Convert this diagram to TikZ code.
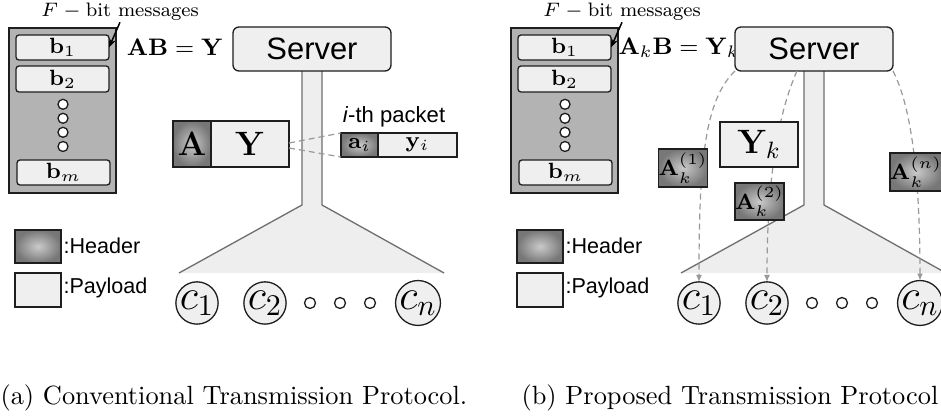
\RequirePackage{fix-cm}
\documentclass[tikz,border=0pt]{standalone}
\usepackage[no-math]{fontspec}
\setsansfont{Liberation Sans}
\usetikzlibrary{arrows.meta,calc}
\newlength\pu
\setlength\pu{0.385pt}
\newcommand\setfs[1]{\fontsize{#1}{#1}\selectfont}
\definecolor{payf}{HTML}{EFEFEF}
\definecolor{contf}{HTML}{B3B3B3}
\definecolor{hdin}{HTML}{CACACA}
\definecolor{hdout}{HTML}{777777}
\definecolor{trk}{HTML}{6E6E6E}
\definecolor{trf}{HTML}{EEEEEE}
\definecolor{dsh}{HTML}{999999}
\definecolor{edge}{HTML}{1E1E1E}
\tikzset{
  base/.style={inner sep=0pt, outer sep=0pt, line width=1.3\pu, draw=edge},
  cont/.style={base, fill=contf, minimum width=107\pu, minimum height=165\pu},
  msgb/.style={base, fill=payf, rounded corners=3\pu, minimum width=93\pu, minimum height=25\pu, font=\setfs{8.5}},
  dotc/.style={circle, base, fill=white, minimum size=10\pu},
  pay/.style={base, fill=payf},
  hdr/.style={base, inner color=hdin, outer color=hdout},
  srv/.style={base, fill=payf, rounded corners=6\pu, minimum width=158\pu, minimum height=44\pu, font=\sffamily\setfs{11.9}},
  cli/.style={circle, base, fill=payf, minimum size=41\pu, font=\setfs{16.5}},
  dsl/.style={draw=dsh, line width=1.2\pu, dash pattern=on 6\pu off 4\pu},
  trunkline/.style={draw=trk, line width=1.3\pu},
  lbl/.style={inner sep=1\pu},
  legtxt/.style={anchor=west, inner sep=0pt, font=\sffamily\setfs{8.3}},
  captxt/.style={anchor=base west, inner sep=0pt, font=\setfs{10.15}},
  dtip/.style={-{Latex[length=2.7pt,width=2.3pt]}},
  ptr/.style={-{Stealth[length=3.5pt,width=2.7pt]}, line width=1.5\pu}
}
\begin{document}
\begin{tikzpicture}[x=\pu, y=-\pu]
\useasboundingbox (0,0) rectangle (941,417);
\fill[white] (0,0) rectangle (941,417);
\clip (0,0) rectangle (941,417);

% ---------- trunks ----------
\fill[trf] (302,71) -- (302,205) -- (179,273) -- (444,273) -- (322,205) -- (322,71) -- cycle;
\draw[trunkline] (302,71) -- (302,205) -- (179,273);
\draw[trunkline] (322,71) -- (322,205) -- (444,273);
\fill[trf] (804,71) -- (804,205) -- (681,273) -- (946,273) -- (824,205) -- (824,71) -- cycle;
\draw[trunkline] (804,71) -- (804,205) -- (681,273);
\draw[trunkline] (824,71) -- (824,205) -- (946,273);

% ---------- left panel ----------
\node[cont] (contL) at (62.5,110.5) {};
\node[msgb] (b1L) at (62.5,47.5) {$\mathbf{b}_1$};
\node[msgb, minimum height=26\pu] (b2L) at (62.5,79) {$\mathbf{b}_2$};
\node[dotc] (d1L) at (63,104.3) {};
\node[dotc] (d2L) at (63,118.3) {};
\node[dotc] (d3L) at (63,132.3) {};
\node[dotc] (d4L) at (63,146.5) {};
\node[msgb] (bmL) at (63.5,172.5) {$\mathbf{b}_m$};
\node[lbl, font=\setfs{7.5}] (fL) at (120,12) {$F-{}$bit messages};
\draw[ptr] (fL.south) -- (b1L.east);
\node[font=\setfs{9.2}] (eqL) at (175,47) {$\mathbf{AB}=\mathbf{Y}$};
\node[srv] (sL) at (312,49) {Server};

\node[hdr, minimum width=38\pu, minimum height=46\pu, font=\setfs{13}] (pAL) at (192,144) {$\mathbf{A}$};
\node[pay, minimum width=78\pu, minimum height=46\pu, font=\setfs{13}] (pYL) at (250,144) {$\mathbf{Y}$};
\node[font=\sffamily\setfs{8.5}] (ipk) at (394,117) {\textit{i}-th packet};
\node[hdr, minimum width=37\pu, minimum height=24\pu, font=\setfs{8.5}] (ai) at (359.5,145) {$\mathbf{a}_i$};
\node[pay, minimum width=79\pu, minimum height=24\pu, font=\setfs{8.5}] (yi) at (417.5,145) {$\mathbf{y}_i$};
\draw[dsl] ([yshift=1\pu]pYL.east) -- (ai.north west);
\draw[dsl] ([yshift=-4\pu]pYL.east) -- (ai.south west);

\node[hdr, minimum width=46\pu, minimum height=33\pu] (lhL) at (38,246.5) {};
\node[legtxt] (lhtL) at (63,246) {:Header};
\node[pay, minimum width=46\pu, minimum height=34\pu] (lpL) at (38,290) {};
\node[legtxt] (lptL) at (63,288) {:Payload};

\node[cli] (c1L) at (197,303) {$c_1$};
\node[cli] (c2L) at (265,303) {$c_2$};
\node[dotc, minimum size=11\pu] (e1L) at (310,303) {};
\node[dotc, minimum size=11\pu] (e2L) at (340,303) {};
\node[dotc, minimum size=11\pu] (e3L) at (370,303) {};
\node[cli] (cnL) at (418,303) {$c_n$};

\node[captxt] (capa) at (0,405) {(a) Conventional Transmission Protocol.};

% ---------- right panel ----------
\node[cont] (contR) at (564.5,110.5) {};
\node[msgb] (b1R) at (564.5,47.5) {$\mathbf{b}_1$};
\node[msgb, minimum height=26\pu] (b2R) at (564.5,79) {$\mathbf{b}_2$};
\node[dotc] (d1R) at (565,104.3) {};
\node[dotc] (d2R) at (565,118.3) {};
\node[dotc] (d3R) at (565,132.3) {};
\node[dotc] (d4R) at (565,146.5) {};
\node[msgb] (bmR) at (565.5,172.5) {$\mathbf{b}_m$};
\node[lbl, font=\setfs{7.5}] (fR) at (622,12) {$F-{}$bit messages};
\draw[ptr] (fR.south) -- (b1R.east);
\node[font=\setfs{9.2}] (eqR) at (679,48) {$\mathbf{A}_k\mathbf{B}=\mathbf{Y}_k$};
\node[srv] (sR) at (814,49) {Server};

\node[hdr, minimum width=46\pu, minimum height=33\pu] (lhR) at (540,246.5) {};
\node[legtxt] (lhtR) at (565,246) {:Header};
\node[pay, minimum width=46\pu, minimum height=34\pu] (lpR) at (540,290) {};
\node[legtxt] (lptR) at (565,288) {:Payload};

\node[cli] (c1R) at (699,303) {$c_1$};
\node[cli] (c2R) at (767,303) {$c_2$};
\node[dotc, minimum size=11\pu] (e1R) at (812,303) {};
\node[dotc, minimum size=11\pu] (e2R) at (842,303) {};
\node[dotc, minimum size=11\pu] (e3R) at (872,303) {};
\node[cli] (cnR) at (920,303) {$c_n$};

\coordinate (s2) at ($(sR.south west)!0.392!(sR.south east)$);
\draw[dsl, dtip] (sR.south west) .. controls +(-30,29) and +(0,-122) .. (c1R.north);
\draw[dsl, dtip] (s2) .. controls +(-17,39) and +(0,-112) .. (c2R.north);
\draw[dsl, dtip] (sR.south east) .. controls +(15,29) and +(0,-122) .. (cnR.north);

\node[pay, minimum width=78\pu, minimum height=45\pu, font=\setfs{13}] (YkR) at (759,144.5) {$\mathbf{Y}_k$};
\node[hdr, minimum width=46\pu, minimum height=38\pu, font=\setfs{8.5}] (A1R) at (683,168) {$\mathbf{A}_k^{(1)}$};
\node[hdr, minimum width=45\pu, minimum height=37\pu, font=\setfs{8.5}] (A2R) at (759.5,201.5) {$\mathbf{A}_k^{(2)}$};
\node[hdr, minimum width=46\pu, minimum height=38\pu, font=\setfs{8.5}] (AnR) at (916,172) {$\mathbf{A}_k^{(n)}$};

\node[captxt] (capb) at (521,405) {(b) Proposed Transmission Protocol};
\end{tikzpicture}
\end{document}
